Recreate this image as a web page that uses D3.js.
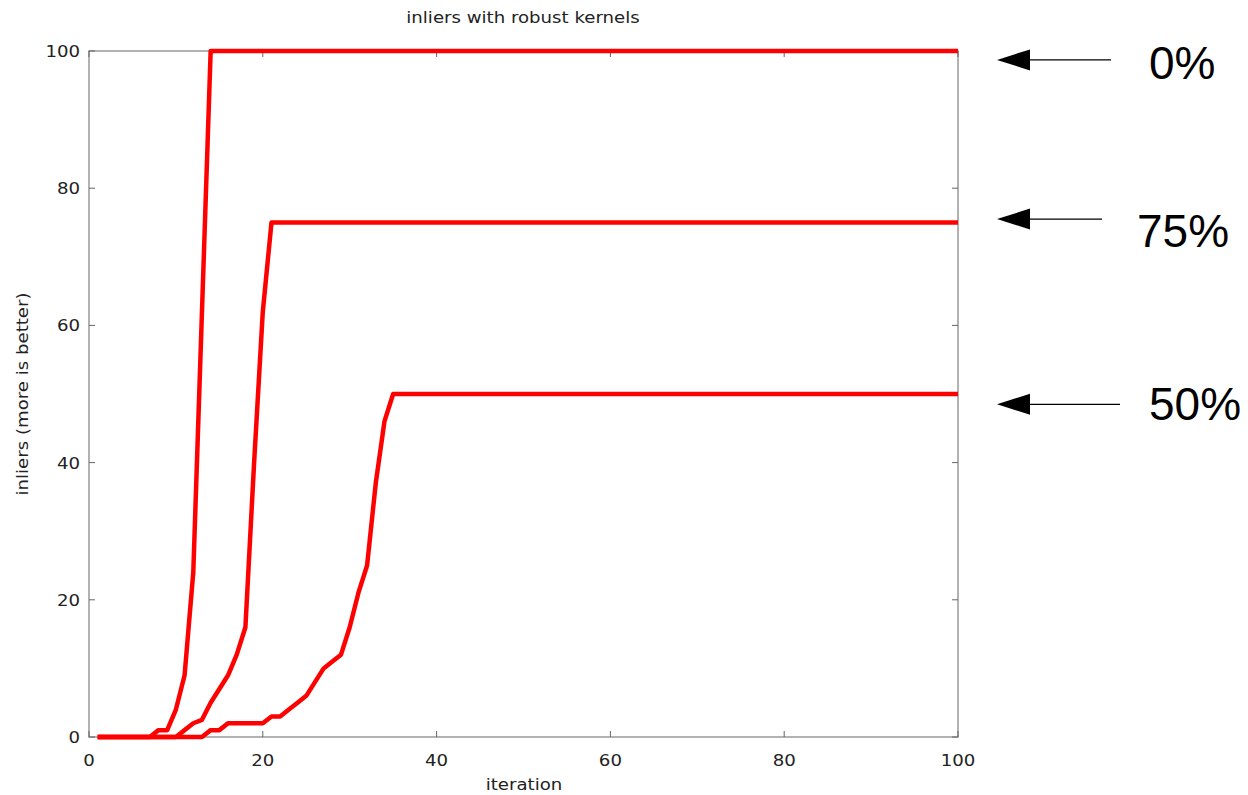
<!DOCTYPE html>
<html>
<head>
<meta charset="utf-8">
<script src="https://cdn.jsdelivr.net/npm/d3@7"></script>
<style>
    body { margin: 0; background: #fff; }
    .tick-label { font-family: "DejaVu Sans", sans-serif; font-size: 16.5px; fill: #222; }
    .note { font-family: "Liberation Sans", Arial, sans-serif; font-size: 46px; fill: #000; }
</style>
</head>
<body>
<div id="chart"></div>
<script>
// iterations (the last point is where the run ends)
var iter0  = [1, 7, 8, 9, 10, 11, 12, 13, 14, 100];
var vals0  = [0, 0, 1, 1, 4, 9, 24, 62, 100, 100];

var iter75 = [1, 10, 11, 12, 13, 14, 15, 16, 17, 18, 19, 20, 21, 100];
var vals75 = [0, 0, 1, 2, 2.5, 5, 7, 9, 12, 16, 40, 62, 75, 75];

var iter50 = [1, 13, 14, 15, 16, 20, 21, 22, 23, 24, 25, 26, 27, 28, 29, 30, 31, 32, 33, 34, 35, 100];
var vals50 = [0, 0, 1, 1, 2, 2, 3, 3, 4, 5, 6, 8, 10, 11, 12, 16, 21, 25, 37, 46, 50, 50];

var xTicks = [0, 20, 40, 60, 80, 100];
var yTicks = [0, 20, 40, 60, 80, 100];

// arrows at the right: level each one points at, and its label
var noteLevels = [98.7, 75.5, 48.5];
var noteLabels = ["0%", "75%", "50%"];

function drawChart() {
    var w = 1248, h = 795;
    var mLeft = 89, mRight = 958, mTop = 51, mBottom = 737;
    var stretch = 1.1; // reference text is slightly wider than tall

    var svg = d3.select("#chart").append("svg")
        .attr("width", w)
        .attr("height", h);

    var xScale = d3.scaleLinear().domain([0, 100]).range([mLeft, mRight]);
    var yScale = d3.scaleLinear().domain([0, 100]).range([mBottom, mTop]);

    // helper for the small gnuplot-like labels
    function label(x, y, txt, anchor, rot) {
        var t = "translate(" + x + "," + y + ")" + (rot ? " rotate(" + rot + ")" : "") +
            " scale(" + stretch + ",1)";
        return svg.append("text")
            .attr("class", "tick-label")
            .attr("transform", t)
            .attr("text-anchor", anchor)
            .text(txt);
    }

    // frame
    svg.append("rect")
        .attr("x", mLeft).attr("y", mTop)
        .attr("width", mRight - mLeft).attr("height", mBottom - mTop)
        .attr("fill", "none")
        .attr("stroke", "#999")
        .attr("stroke-width", 1.5);

    // inward ticks, mirrored on all four sides
    var tickLen = 6;
    var ticks = svg.append("g").attr("stroke", "#666").attr("stroke-width", 1);
    xTicks.forEach(function(t) {
        ticks.append("line").attr("x1", xScale(t)).attr("x2", xScale(t))
            .attr("y1", mBottom).attr("y2", mBottom - tickLen);
        ticks.append("line").attr("x1", xScale(t)).attr("x2", xScale(t))
            .attr("y1", mTop).attr("y2", mTop + tickLen);
    });
    yTicks.forEach(function(t) {
        ticks.append("line").attr("x1", mLeft).attr("x2", mLeft + tickLen)
            .attr("y1", yScale(t)).attr("y2", yScale(t));
        ticks.append("line").attr("x1", mRight).attr("x2", mRight - tickLen)
            .attr("y1", yScale(t)).attr("y2", yScale(t));
    });

    xTicks.forEach(function(d) { label(xScale(d), mBottom + 29, d, "middle"); });
    yTicks.forEach(function(d) { label(mLeft - 9, yScale(d) + 6, d, "end"); });

    // titles
    label(523, 23, "inliers with robust kernels", "middle");
    label(524, 790, "iteration", "middle");
    label(28, (mTop + mBottom) / 2, "inliers (more is better)", "middle", -90);

    // series
    var line = d3.line()
        .x(function(d) { return xScale(d[0]); })
        .y(function(d) { return yScale(d[1]); });

    [[iter0, vals0], [iter75, vals75], [iter50, vals50]].forEach(function(s) {
        var pts = s[0].map(function(x, i) { return [x, s[1][i]]; });
        svg.append("path")
            .datum(pts)
            .attr("d", line)
            .attr("fill", "none")
            .attr("stroke", "#ff0000")
            .attr("stroke-width", 4.5)
            .attr("stroke-linejoin", "round");
    });

    // arrows + labels on the right
    var tipX = 997, headLen = 33, headHalf = 10.5;
    var lineEnds = [1111, 1102, 1120];
    var labelX = [1149, 1137, 1149];
    var labelDy = [19, 28, 16];

    noteLevels.forEach(function(v, i) {
        var y = yScale(v);
        svg.append("line")
            .attr("x1", tipX + headLen).attr("x2", lineEnds[i])
            .attr("y1", y).attr("y2", y)
            .attr("stroke", "#000").attr("stroke-width", 1.2);
        svg.append("path")
            .attr("d", "M" + tipX + "," + y + "L" + (tipX + headLen) + "," + (y - headHalf) +
                "L" + (tipX + headLen) + "," + (y + headHalf) + "Z")
            .attr("fill", "#000");
        svg.append("text").attr("class", "note")
            .attr("x", labelX[i]).attr("y", y + labelDy[i])
            .text(noteLabels[i]);
    });
}

drawChart();
</script>
</body>
</html>
